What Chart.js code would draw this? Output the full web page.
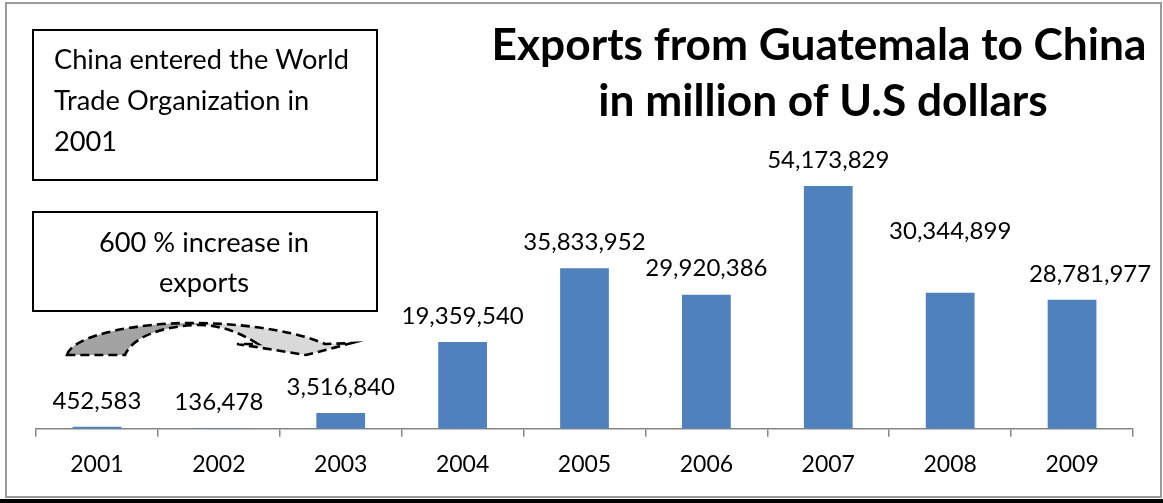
<!DOCTYPE html>
<html>
<head>
<meta charset="utf-8">
<script src="https://cdn.jsdelivr.net/npm/chart.js@4.4.1/dist/chart.umd.min.js"></script>
<style>
  html, body { margin: 0; padding: 0; background: #fff; }
  #wrap { width: 1163px; height: 503px; }
</style>
</head>
<body>
<div id="wrap"><canvas id="c" width="1163" height="503"></canvas></div>
<script>
// ---- data ----
const categories = ['2001', '2002', '2003', '2004', '2005', '2006', '2007', '2008', '2009'];
const exportsUSD = [452583, 136478, 3516840, 19359540, 35833952, 29920386, 54173829, 30344899, 28781977];
const titleLines = ['Exports from Guatemala to China', 'in million of U.S dollars'];
const noteWTO = ['China entered the World', 'Trade Organization in', '2001'];
const noteIncrease = ['600 % increase in', 'exports'];

const FONT = 'Lato, "Open Sans", "DejaVu Sans", sans-serif';

function fitSize(ctx, text, targetW, weight, base) {
  ctx.font = weight + ' ' + base + 'px ' + FONT;
  const w = ctx.measureText(text).width;
  return base * targetW / w;
}

const decorPlugin = {
  id: 'decor',
  beforeDraw(chart) {
    const ctx = chart.ctx;
    ctx.save();
    ctx.fillStyle = '#ffffff';
    ctx.fillRect(0, 0, chart.width, chart.height);
    ctx.restore();
  },
  afterDraw(chart, args, opts) {
    const ctx = chart.ctx;
    ctx.save();

    // value labels above bars
    const meta = chart.getDatasetMeta(0);
    ctx.font = '24px ' + FONT;
    ctx.fillStyle = '#000';
    ctx.textAlign = 'center';
    ctx.textBaseline = 'middle';
    meta.data.forEach((bar, i) => {
      const n = (opts.nudges && opts.nudges[i]) || { dx: 0, dy: -26 };
      ctx.fillText(exportsUSD[i].toLocaleString('en-US'), bar.x + n.dx, bar.y + n.dy);
    });

    // title
    const ts = fitSize(ctx, titleLines[0], 655, 'bold', 38);
    ctx.font = 'bold ' + ts.toFixed(2) + 'px ' + FONT;
    ctx.textBaseline = 'alphabetic';
    ctx.textAlign = 'center';
    ctx.fillText(titleLines[0], 819, 60);
    ctx.fillText(titleLines[1], 823, 116);

    // note boxes
    ctx.lineWidth = 2;
    ctx.strokeStyle = '#000';
    ctx.strokeRect(33, 30, 344, 150);
    ctx.strokeRect(33, 212, 344, 99);
    const bs = fitSize(ctx, noteWTO[0], 295, 'normal', 23);
    ctx.font = bs.toFixed(2) + 'px ' + FONT;
    ctx.textAlign = 'left';
    noteWTO.forEach((t, i) => ctx.fillText(t, 54, 68.5 + i * 41));
    ctx.textAlign = 'center';
    noteIncrease.forEach((t, i) => ctx.fillText(t, 204, 252 + i * 40));

    // curved arrow (dashed outline, two-tone grey)
    ctx.beginPath();
    ctx.moveTo(67, 355);
    ctx.bezierCurveTo(72, 335, 140, 322, 198, 323);
    ctx.bezierCurveTo(255, 324, 300, 333, 325, 344);
    ctx.lineTo(352, 343);
    ctx.lineTo(306, 355);
    ctx.lineTo(237, 344);
    ctx.lineTo(258, 344);
    ctx.bezierCurveTo(240, 333, 222, 325, 198, 325);
    ctx.bezierCurveTo(160, 326, 132, 338, 125, 355);
    ctx.closePath();
    const g = ctx.createLinearGradient(67, 0, 352, 0);
    g.addColorStop(0, '#a3a3a3');
    g.addColorStop(0.44, '#a3a3a3');
    g.addColorStop(0.5, '#d9d9d9');
    g.addColorStop(1, '#d9d9d9');
    ctx.fillStyle = g;
    ctx.fill();
    ctx.setLineDash([9, 5]);
    ctx.lineWidth = 2.6;
    ctx.strokeStyle = '#000';
    ctx.stroke();
    ctx.setLineDash([]);

    // frame
    ctx.lineWidth = 2;
    ctx.strokeStyle = '#9a9a9a';
    ctx.strokeRect(6, 3, 1155, 494);
    ctx.fillStyle = '#000';
    ctx.fillRect(0, 499, chart.width, 4);

    ctx.restore();
  }
};

new Chart(document.getElementById('c'), {
  type: 'bar',
  data: {
    labels: categories,
    datasets: [{
      data: exportsUSD,
      backgroundColor: '#4f81bd',
      borderWidth: 0,
      barPercentage: 0.4,
      categoryPercentage: 1.0
    }]
  },
  options: {
    responsive: false,
    animation: false,
    devicePixelRatio: 1,
    layout: { padding: { left: 36, right: 30, top: 160, bottom: 10.6 } },
    scales: {
      x: {
        offset: true,
        grid: {
          display: true,
          offset: true,
          drawOnChartArea: false,
          drawTicks: true,
          tickLength: 8,
          color: '#868686',
          lineWidth: 1.5
        },
        border: { display: true, color: '#868686', width: 1.5 },
        ticks: { color: '#000', font: { family: FONT, size: 23 }, padding: 14, maxRotation: 0 }
      },
      y: { display: false, min: 0, max: 60000000 }
    },
    plugins: {
      legend: { display: false },
      tooltip: { enabled: false },
      title: { display: false },
      decor: {
        nudges: { 7: { dx: 0, dy: -62 }, 8: { dx: 18, dy: -26 } }
      }
    }
  },
  plugins: [decorPlugin]
});
</script>
</body>
</html>
